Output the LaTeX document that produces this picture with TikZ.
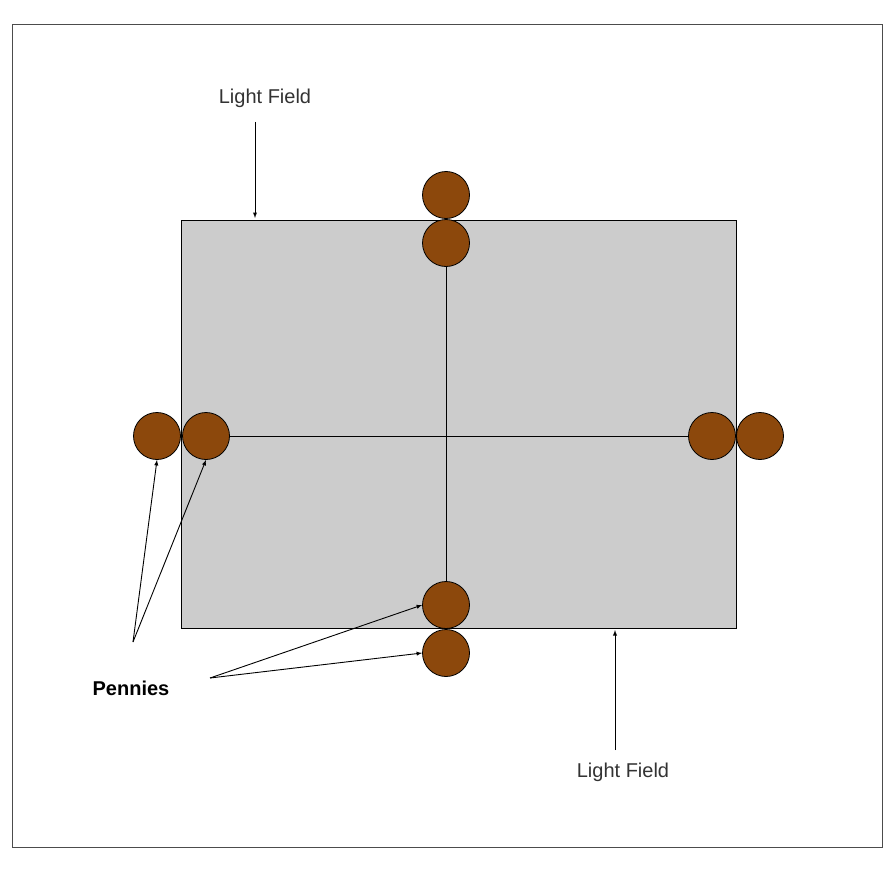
\documentclass[tikz,border=0pt]{standalone}
\usepackage{fontspec}
\setmainfont{Liberation Sans}
\begin{document}
\begin{tikzpicture}[x=1pt,y=-1pt,
  penny/.style={circle,draw=black,fill=pbrown,minimum size=47pt,inner sep=0pt,line width=0.8pt},
  arr/.style={-latex,line width=0.9pt},
  lbl/.style={font=\fontsize{20}{24}\selectfont,text=black!80}]
\definecolor{pbrown}{RGB}{140,72,12}
\useasboundingbox (0,0) rectangle (896,880);
\fill[white] (0,0) rectangle (896,880);
\draw[line width=1pt,black!70] (12,25) rectangle (882,847);
\draw[fill=black!20,line width=0.8pt] (181,220) rectangle (736,628);
\coordinate (vt) at (446,243); \coordinate (vb) at (446,605);
\coordinate (hl) at (206,436); \coordinate (hr) at (712,436);
\draw[line width=0.8pt] (vt) -- (vb);
\draw[line width=0.8pt] (hl) -- (hr);
\node[penny] (t1) at (446,195) {};
\node[penny] (t2) at (446,243) {};
\node[penny] (b1) at (446,605) {};
\node[penny] (b2) at (446,653) {};
\node[penny] (l1) at (157,436) {};
\node[penny] (l2) at (206,436) {};
\node[penny] (r1) at (712,436) {};
\node[penny] (r2) at (760,436) {};
\node[lbl] (lf1) at (265,98) {Light Field};
\node[lbl] (lf2) at (623,772) {Light Field};
\node[lbl,font=\bfseries\fontsize{20}{24}\selectfont,text=black] (pen) at (131,688) {Pennies};
\coordinate (a1s) at (255,122); \coordinate (a1e) at (255,218);
\coordinate (a2s) at (615,750); \coordinate (a2e) at (615,630);
\draw[arr] (a1s) -- (a1e);
\draw[arr] (a2s) -- (a2e);
\coordinate (p1) at (133,642); \coordinate (p2) at (210,678);
\draw[arr] (p1) -- (l1.south);
\draw[arr] (p1) -- (l2.south);
\draw[arr] (p2) -- (b1.west);
\draw[arr] (p2) -- (b2.west);
\end{tikzpicture}
\end{document}
